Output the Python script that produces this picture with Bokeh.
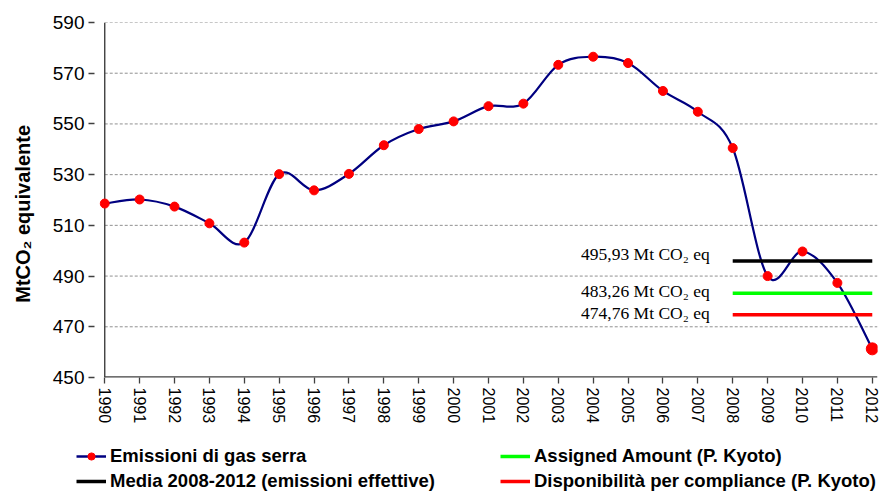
from bokeh.plotting import figure
from bokeh.layouts import column, row
from bokeh.models import (Range1d, FixedTicker, Legend, LegendItem)
from bokeh.core.properties import value
from bokeh.embed import file_html
from bokeh.resources import INLINE

years = list(range(1990, 2013))
emissions = [518.6, 520.2, 517.4, 510.8, 503.2, 530.2, 523.8, 530.3, 541.6, 548.0,
             551.0, 557.0, 558.0, 573.3, 576.5, 574.0, 563.0, 554.8, 540.5, 490.0,
             499.7, 487.3, 461.3]
period_start = 2008
period_end = 2012
media_val = 495.93
assigned_val = 483.26
dispon_val = 474.76
ref_labels = ["495,93 Mt CO\u2082 eq", "483,26 Mt CO\u2082 eq", "474,76 Mt CO\u2082 eq"]
y_ticks = [450, 470, 490, 510, 530, 550, 570, 590]
legend_labels = ["Emissioni di gas serra", "Media 2008-2012 (emissioni effettive)",
                 "Assigned Amount (P. Kyoto)", "Disponibilità per compliance (P. Kyoto)"]

BLUE = "#000080"
RED = "#FF0000"
GREEN = "#00FF00"
BLACK = "#000000"

p = figure(width=879, height=433, output_backend="svg", toolbar_location=None,
           x_range=Range1d(1989.85, 2012.15), y_range=Range1d(450, 590),
           min_border_left=99, min_border_top=22, min_border_right=2, min_border_bottom=56)
p.outline_line_color = None
p.background_fill_color = "white"
p.border_fill_color = "white"

# dashed horizontal grid, from the first to the last year
p.segment(x0=[years[0]] * len(y_ticks[1:]), y0=y_ticks[1:], x1=[years[-1] + 0.15] * len(y_ticks[1:]),
          y1=y_ticks[1:], line_color="#909090", line_dash="3 2", line_width=1)
# axis lines drawn at the first year / lowest tick
p.segment(x0=[years[0]], y0=[y_ticks[0]], x1=[years[0]], y1=[y_ticks[-1]], line_color="#404040", line_width=1.4)
p.segment(x0=[years[0]], y0=[y_ticks[0]], x1=[years[-1] + 0.15], y1=[y_ticks[0]], line_color="#404040", line_width=2.6)

# smooth curve (Catmull-Rom style bezier through the data points)
n = len(years)
x0, y0, x1, y1, cx0, cy0, cx1, cy1 = [], [], [], [], [], [], [], []
for i in range(n - 1):
    pa = (years[max(i - 1, 0)], emissions[max(i - 1, 0)])
    pb = (years[i], emissions[i])
    pc = (years[i + 1], emissions[i + 1])
    pd = (years[min(i + 2, n - 1)], emissions[min(i + 2, n - 1)])
    x0.append(pb[0]); y0.append(pb[1]); x1.append(pc[0]); y1.append(pc[1])
    cx0.append(pb[0] + (pc[0] - pa[0]) / 6.0); cy0.append(pb[1] + (pc[1] - pa[1]) / 6.0)
    cx1.append(pc[0] - (pd[0] - pb[0]) / 6.0); cy1.append(pc[1] - (pd[1] - pb[1]) / 6.0)
p.bezier(x0=x0, y0=y0, x1=x1, y1=y1, cx0=cx0, cy0=cy0, cx1=cx1, cy1=cy1,
         line_color=BLUE, line_width=2.2)

sizes = [9] * (n - 1) + [12]
p.scatter(years, emissions, size=sizes, fill_color=RED, line_color=RED)

p.segment(x0=[period_start], y0=[media_val], x1=[period_end], y1=[media_val], line_color=BLACK, line_width=3.5)
p.segment(x0=[period_start], y0=[assigned_val], x1=[period_end], y1=[assigned_val], line_color=GREEN, line_width=3.5)
p.segment(x0=[period_start], y0=[dispon_val], x1=[period_end], y1=[dispon_val], line_color=RED, line_width=3.5)

p.text(x=[period_start] * 3, y=[media_val, assigned_val, dispon_val], text=ref_labels,
       text_align="right", text_baseline="alphabetic", x_offset=-23, y_offset=[-7.4, -2.0, -1.7],
       text_font=value("Liberation Serif"), text_font_size="17.5px", text_color="black")

# axes
p.yaxis.ticker = FixedTicker(ticks=y_ticks)
p.xaxis.ticker = FixedTicker(ticks=years)
p.xaxis.major_label_orientation = "vertical"
for ax in (p.xaxis[0], p.yaxis[0]):
    ax.axis_line_color = None
    ax.major_tick_line_color = "#404040"
    ax.major_tick_line_width = 1.3
    ax.minor_tick_line_color = None
    ax.major_label_text_font = "Liberation Sans"
    ax.major_label_text_color = "black"
p.yaxis.major_tick_in = -5
p.yaxis.major_tick_out = 11
p.xaxis.major_tick_in = 0
p.xaxis.major_tick_out = 6
p.yaxis.major_label_text_font_size = "19px"
p.xaxis.major_label_text_font_size = "16px"
p.xaxis.major_label_standoff = 4
p.yaxis.major_label_standoff = 4
p.yaxis.axis_label = "MtCO\u2082 equivalente" + "\u00a0" * 5
p.yaxis.axis_label_text_font = "Liberation Sans"
p.yaxis.axis_label_text_font_style = "bold"
p.yaxis.axis_label_text_font_size = "20px"
p.yaxis.axis_label_standoff = 16
p.yaxis.axis_label_text_color = "black"
p.xgrid.grid_line_color = None
p.ygrid.grid_line_color = None

# legend strip (separate figure below the chart)
pl = figure(width=879, height=59, output_backend="svg", toolbar_location=None,
            x_range=Range1d(0, 1), y_range=Range1d(0, 1),
            x_axis_location=None, y_axis_location=None,
            min_border_left=0, min_border_right=0, min_border_top=0, min_border_bottom=0)
pl.grid.visible = False
pl.outline_line_color = None
nan = float("nan")
l_em = pl.line([nan], [nan], line_color=BLUE, line_width=2.5)
s_em = pl.scatter([nan], [nan], size=8, fill_color=RED, line_color=RED)
l_me = pl.line([nan], [nan], line_color=BLACK, line_width=3.5)
l_as = pl.line([nan], [nan], line_color=GREEN, line_width=3.5)
l_di = pl.line([nan], [nan], line_color=RED, line_width=3.5)

legend = Legend(items=[
    LegendItem(label=legend_labels[0], renderers=[l_em, s_em]),
    LegendItem(label=legend_labels[1], renderers=[l_me]),
    LegendItem(label=legend_labels[2], renderers=[l_as]),
    LegendItem(label=legend_labels[3], renderers=[l_di]),
], ncols=2, location=(76, 0), margin=0, padding=0, spacing=3,
   label_text_font="Liberation Sans", label_text_font_style="bold", label_text_font_size="18.5px",
   label_text_color="black", label_standoff=4, glyph_width=30, glyph_height=18,
   label_height=18, label_width=387, border_line_color=None, background_fill_alpha=0)
pl.add_layout(legend, "center")

layout = column(p, row(pl), spacing=0)
open("out.html", "w").write(file_html(layout, INLINE))
